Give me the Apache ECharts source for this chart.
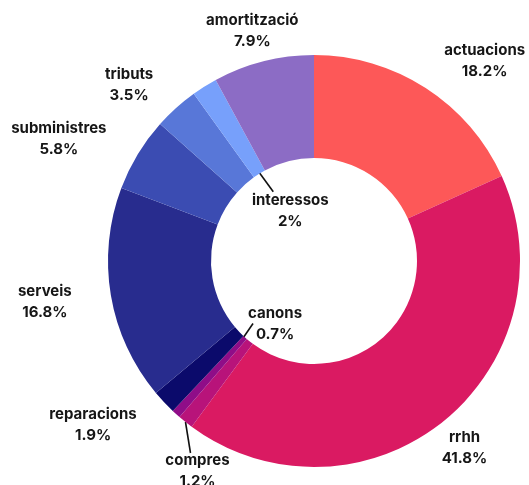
<!DOCTYPE html>
<html>
<head>
<meta charset="utf-8">
<script src="https://cdn.jsdelivr.net/npm/echarts@6/dist/echarts.min.js"></script>
<style>
html,body{margin:0;padding:0;background:#fff;}
#chart{width:529px;height:485px;}
</style>
</head>
<body>
<div id="chart"></div>
<script>
// ---- data ----
const categories = ['actuacions','rrhh','compres','canons','reparacions','serveis','subministres','tributs','interessos','amortització'];
const values = [18.2, 41.8, 1.2, 0.7, 1.9, 16.8, 5.8, 3.5, 2, 7.9];

// ---- styles ----
const colors = ['#fd5858','#da1a62','#b8137a','#8f0d88','#0b0a6b','#282c8e','#3b4cb2','#5877d8','#77a0fb','#8c6cc5'];
const CX = 314, CY = 261, R0 = 103, R1 = 206;
// label anchor: 'out' = outer edge, 'in' = inner edge of the ring at the slice mid-angle
const labelAnchor = ['out','out','out','in','out','out','out','out','in','out'];
// offset of the label block centre from its anchor (px)
const labelNudge = [[59,-27],[21,27],[12,49],[30,-14],[-71,23],[-66,7],[-79,-15],[-47,-23],[31,37],[-11,-30]];
// leader lines: [start radius, end offset from label centre]
const leader = {2:[206,[-7,-18]], 3:[114,[-22,0]], 8:[114,[-17,-19]]};

const total = values.reduce((a,b)=>a+b,0);
const midAngle = [];
let cum = 0;
values.forEach(v => { midAngle.push((cum + v/2) / total * 2 * Math.PI); cum += v; });
function pt(r, a){ return [CX + r*Math.sin(a), CY - r*Math.cos(a)]; }

const chart = echarts.init(document.getElementById('chart'), null, {renderer:'canvas'});
chart.setOption({
  animation: false,
  series: [{
    type: 'pie',
    center: [CX, CY],
    radius: [R0, R1],
    startAngle: 90,
    clockwise: true,
    avoidLabelOverlap: false,
    emphasis: {disabled: true},
    itemStyle: {borderWidth: 0},
    label: {
      show: true,
      position: 'outside',
      formatter: '{b}\n{c}%',
      fontFamily: 'Inter, sans-serif',
      fontWeight: 700,
      fontSize: 15,
      lineHeight: 21,
      color: '#161616',
      width: 170,
      overflow: 'none',
      align: 'center'
    },
    labelLine: {show: false, length: 0, length2: 0, lineStyle: {color: '#111', width: 1.6}},
    labelLayout: function (p) {
      const i = p.dataIndex;
      const a = midAngle[i];
      const base = pt(labelAnchor[i] === 'in' ? R0 : R1, a);
      const x = base[0] + labelNudge[i][0];
      const y = base[1] + labelNudge[i][1];
      const o = {x: x, y: y, align: 'center', verticalAlign: 'middle'};
      if (leader[i]) {
        o.labelLinePoints = [pt(leader[i][0], a), [x + leader[i][1][0], y + leader[i][1][1]], [x + leader[i][1][0], y + leader[i][1][1]]];
      }
      return o;
    },
    data: categories.map((c, i) => ({
      name: c,
      value: values[i],
      itemStyle: {color: colors[i]},
      labelLine: {show: !!leader[i]}
    }))
  }]
});
</script>
</body>
</html>
